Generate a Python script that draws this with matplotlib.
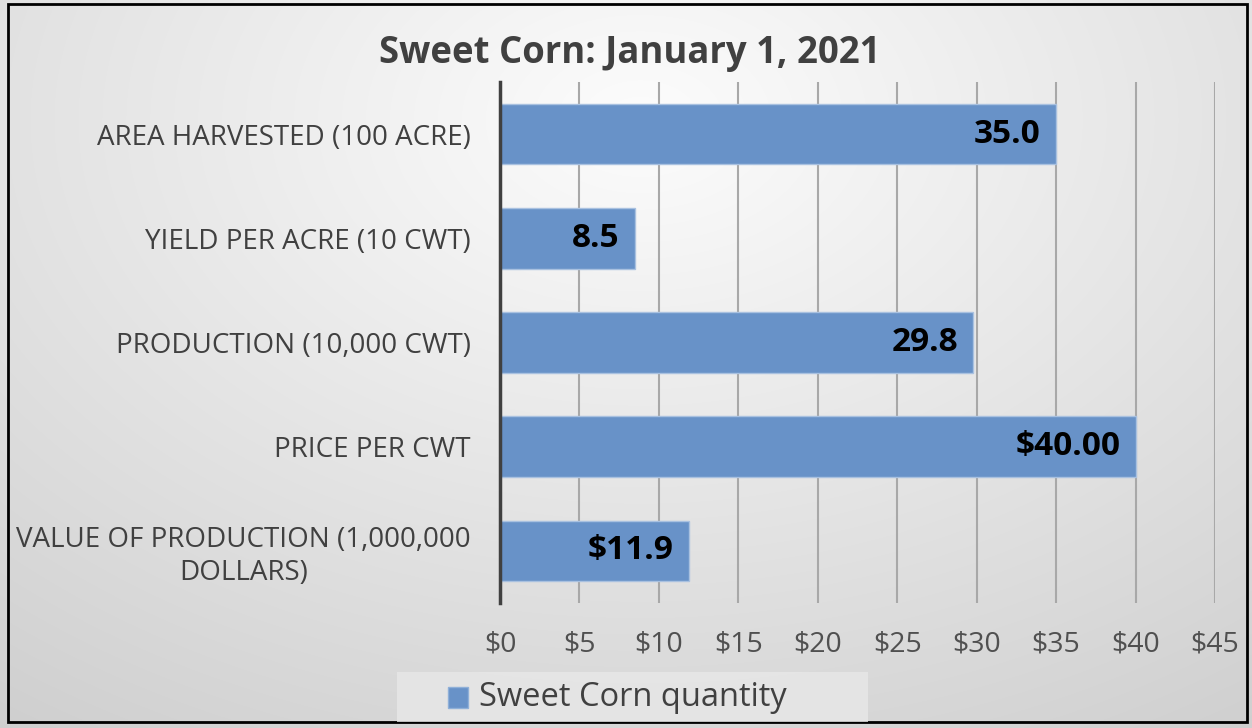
import numpy as np
import matplotlib
matplotlib.use("Agg")
from matplotlib import pyplot as plt
from matplotlib.patches import Rectangle

categories = ["AREA HARVESTED (100 ACRE)", "YIELD PER ACRE (10 CWT)",
              "PRODUCTION (10,000 CWT)", "PRICE PER CWT",
              "VALUE OF PRODUCTION (1,000,000\nDOLLARS)"]
values = [35.0, 8.5, 29.8, 40.0, 11.9]
value_labels = ["35.0", "8.5", "29.8", "$40.00", "$11.9"]
x_ticks = [0, 5, 10, 15, 20, 25, 30, 35, 40, 45]
x_tick_labels = ["$%d" % t for t in x_ticks]
title = "Sweet Corn: January 1, 2021"
series_name = "Sweet Corn quantity"

plt.rcParams['font.family'] = ['Open Sans', 'DejaVu Sans']

fig = plt.figure(figsize=(12.52, 7.28), dpi=100)

# radial gradient background
bg = fig.add_axes([0, 0, 1, 1], zorder=-10)
yy, xx = np.mgrid[0:728, 0:1252]
cx, cy = 640, 120
r = np.sqrt(((xx - cx) / 1100.0) ** 2 + ((yy - cy) / 750.0) ** 2)
r = np.clip(r, 0, 1)
shade = 0.99 - 0.18 * r
bg.imshow(np.dstack([shade, shade, shade]), aspect='auto', extent=[0, 1252, 728, 0])
bg.set_xlim(0, 1252)
bg.set_ylim(728, 0)
bg.axis('off')
bg.add_patch(Rectangle((8, 4), 1239, 718, fill=False, edgecolor='black', lw=2))
# legend box
bg.add_patch(Rectangle((397, 672), 471, 50, facecolor='#e8e8e8', edgecolor='none', alpha=0.8))
bg.add_patch(Rectangle((448, 687), 20, 21, facecolor='#6892c8', edgecolor='#8fb0d8', lw=1))
bg.text(479, 697, series_name, fontsize=23.5, color='#404040', va='center', ha='left')

ax = fig.add_axes([500 / 1252, 1 - 603 / 728, 715 / 1252, 521 / 728])
ax.patch.set_alpha(0)
y = np.arange(len(categories))
bars = ax.barh(y, values, height=0.58, color='#6892c8', edgecolor='#a9c1e0', lw=1, zorder=3)
ax.set_ylim(len(categories) - 0.5, -0.5)
ax.set_xlim(0, 45)
ax.set_xticks(x_ticks)
ax.set_xticklabels(x_tick_labels)
ax.set_yticks(y)
ax.set_yticklabels(categories, ha='right', multialignment='center')
ax.tick_params(axis='y', length=0, pad=21, labelsize=20, labelcolor='#404040')
ax.tick_params(axis='x', length=0, pad=20, labelsize=20.5, labelcolor='#505050')
ax.grid(axis='x', color='#a8a8a8', lw=1.5, zorder=0)
for s in ['top', 'right', 'bottom']:
    ax.spines[s].set_visible(False)
ax.spines['left'].set_color('#404040')
ax.spines['left'].set_linewidth(2.5)
ax.spines['left'].set_zorder(4)

for b, lab in zip(bars, value_labels):
    ax.annotate(lab, (b.get_width(), b.get_y() + b.get_height() / 2),
                xytext=(-11, 0), textcoords='offset points', ha='right', va='center',
                fontsize=24, fontweight='bold', color='black', zorder=5)

fig.text(630 / 1252, 1 - 53 / 728, title, fontsize=26.3, fontweight='bold', color='#404040',
         ha='center', va='center')

fig.savefig("out.png", dpi=100)
